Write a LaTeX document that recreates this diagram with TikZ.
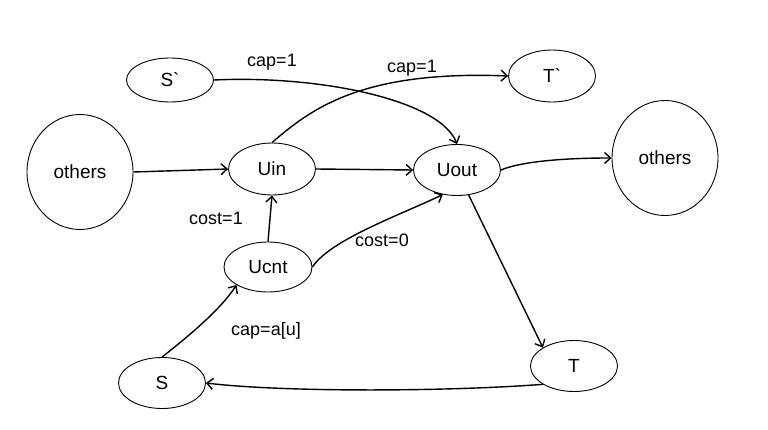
\documentclass[tikz,border=0pt]{standalone}
\usepackage{fontspec}
\setmainfont{Liberation Sans}[Ligatures=TeXOff]
\usetikzlibrary{shapes.geometric,arrows.meta}
\tikzset{
  nd/.style={draw, ellipse, line width=0.9pt, inner sep=0pt, font=\fontsize{19}{19}\selectfont},
  edge/.style={line width=1.4pt, -{Straight Barb[length=6pt,width=11pt,line width=1.4pt]}},
  lbl/.style={font=\fontsize{18}{18}\selectfont, inner sep=1pt}
}
\begin{document}
\begin{tikzpicture}[x=1pt,y=-1pt]
\useasboundingbox (0,0) rectangle (768,430);
\node[nd, minimum width=87pt, minimum height=44pt] (sp) at (170,80) {S`};
\node[nd, minimum width=87pt, minimum height=52pt] (tp) at (552,76) {T`};
\node[nd, minimum width=106pt, minimum height=115pt] (ol) at (80,172) {others};
\node[nd, minimum width=87pt, minimum height=52pt] (uin) at (272,169) {Uin};
\node[nd, minimum width=87pt, minimum height=51pt] (uout) at (457,170) {Uout};
\node[nd, minimum width=106pt, minimum height=115pt] (or) at (665,158) {others};
\node[nd, minimum width=88pt, minimum height=50pt] (ucnt) at (268,267) {Ucnt};
\node[nd, minimum width=87pt, minimum height=51pt] (s) at (162,383) {S};
\node[nd, minimum width=87pt, minimum height=51pt] (t) at (574,366) {T};

\draw[edge] (sp.east) .. controls (320,75) and (440,100) .. (uout.north);
\draw[edge] (uin.north) .. controls (310,110) and (360,70) .. (tp.west);
\draw[edge] (ol.east) -- (uin.west);
\draw[edge] (uin.east) -- (uout.west);
\draw[edge] (uout.east) .. controls (520,162) and (560,158) .. (or.west);
\draw[edge] (ucnt.north) -- (uin.south);
\draw[edge] (ucnt.east) .. controls (330,240) and (400,215) .. (uout.-120);
\draw[edge] (s.north) .. controls (190,335) and (220,310) .. (ucnt.south west);
\draw[edge] (uout.-65) -- (t.north west);
\draw[edge] (t.south west) .. controls (440,392) and (280,392) .. (s.east);

\node[lbl] (l1) at (272,62) {cap=1};
\node[lbl] (l2) at (412,68) {cap=1};
\node[lbl] (l3) at (216,218) {cost=1};
\node[lbl] (l4) at (382,240) {cost=0};
\node[lbl] (l5) at (266,331) {cap=a[u]};
\end{tikzpicture}
\end{document}
